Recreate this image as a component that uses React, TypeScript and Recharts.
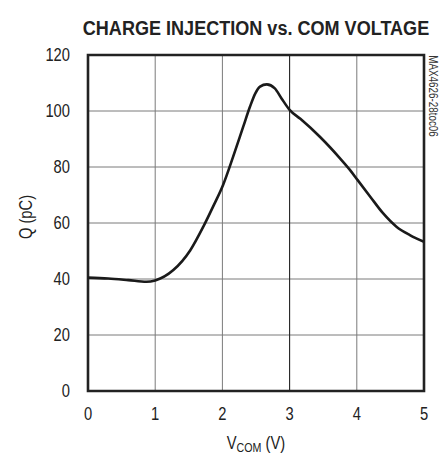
import { LineChart, Line, XAxis, YAxis, CartesianGrid, ReferenceArea, ReferenceLine } from "recharts";

const vcom = [0, 0.3, 0.6, 0.87, 1.0, 1.27, 1.52, 1.72, 1.87, 2.01, 2.16, 2.31, 2.41, 2.49, 2.56, 2.66, 2.78, 2.88, 3.0, 3.16, 3.45, 3.75, 3.9, 4.01, 4.2, 4.39, 4.59, 4.79, 5.0];
const charge = [40.5, 40.2, 39.6, 39.0, 39.5, 43.2, 50.2, 58.9, 66.3, 73.6, 83.7, 94.4, 101.5, 106.3, 108.7, 109.5, 108.1, 104.5, 100.4, 97.2, 90.8, 83.1, 78.9, 75.4, 69.4, 63.5, 58.7, 55.7, 53.3];
const xTicks = [0, 1, 2, 3, 4, 5];
const yTicks = [0, 20, 40, 60, 80, 100, 120];

const data = vcom.map((v, i) => ({ v, q: charge[i] }));

const FONT = "'Liberation Sans', Arial, sans-serif";
const NARROW = 0.82;

const XTick = (props: any) => {
	const { x, y, payload } = props;
	return (
		<g transform={`translate(${x},${y}) scale(${NARROW},1)`}>
			<text x={0} y={0} dy="0.71em" textAnchor="middle" fontFamily={FONT} fontSize={18} fill="#222">
				{payload.value}
			</text>
		</g>
	);
};

const YTick = (props: any) => {
	const { x, y, payload } = props;
	return (
		<g transform={`translate(${x},${y}) scale(${NARROW},1)`}>
			<text x={0} y={0} dy="0.36em" textAnchor="end" fontFamily={FONT} fontSize={18} fill="#222">
				{payload.value}
			</text>
		</g>
	);
};

export default function App() {
	return (
		<LineChart
			width={432}
			height={454}
			data={data}
			margin={{ top: 47, right: 16, bottom: 0, left: 0 }}
		>
			<CartesianGrid stroke="#7a7a7a" strokeWidth={1} />
			<XAxis
				dataKey="v"
				type="number"
				domain={[0, 5]}
				ticks={xTicks}
				height={71}
				axisLine={false}
				tickLine={false}
				tickSize={0}
				tickMargin={16}
				tick={<XTick />}
			/>
			<YAxis
				type="number"
				domain={[0, 120]}
				ticks={yTicks}
				width={80}
				axisLine={false}
				tickLine={false}
				tickSize={0}
				tickMargin={18}
				tick={<YTick />}
			/>
			<ReferenceLine x={3} stroke="#222" strokeWidth={1} />
			<ReferenceArea
				x1={0}
				x2={5}
				y1={0}
				y2={120}
				fill="none"
				fillOpacity={0}
				stroke="#222"
				strokeWidth={2.6}
				ifOverflow="visible"
			/>
			<Line
				dataKey="q"
				type="monotone"
				stroke="#1a1a1a"
				strokeWidth={2.6}
				dot={false}
				isAnimationActive={false}
			/>
			<g transform="translate(248,27) scale(0.86,1)">
				<text x={0} y={0} textAnchor="middle" fontFamily={FONT} fontWeight="bold" fontSize={21} fill="#222">
					CHARGE INJECTION vs. COM VOLTAGE
				</text>
			</g>
			<g transform={`translate(17,209) rotate(-90) scale(${NARROW},1)`}>
				<text x={0} y={0} textAnchor="middle" dominantBaseline="central" fontFamily={FONT} fontSize={18} fill="#222">
					Q (pC)
				</text>
			</g>
			<g transform={`translate(248,441) scale(${NARROW},1)`}>
				<text x={0} y={0} textAnchor="middle" fontFamily={FONT} fontSize={18} fill="#222">
					V<tspan fontSize={13} dy={3}>COM</tspan>
					<tspan dy={-3}> (V)</tspan>
				</text>
			</g>
			<g transform={`translate(425,88) rotate(90) scale(${NARROW},1)`}>
				<text x={0} y={0} textAnchor="middle" dominantBaseline="central" fontFamily={FONT} fontSize={12} fill="#333">
					MAX4626-28toc06
				</text>
			</g>
		</LineChart>
	);
}
